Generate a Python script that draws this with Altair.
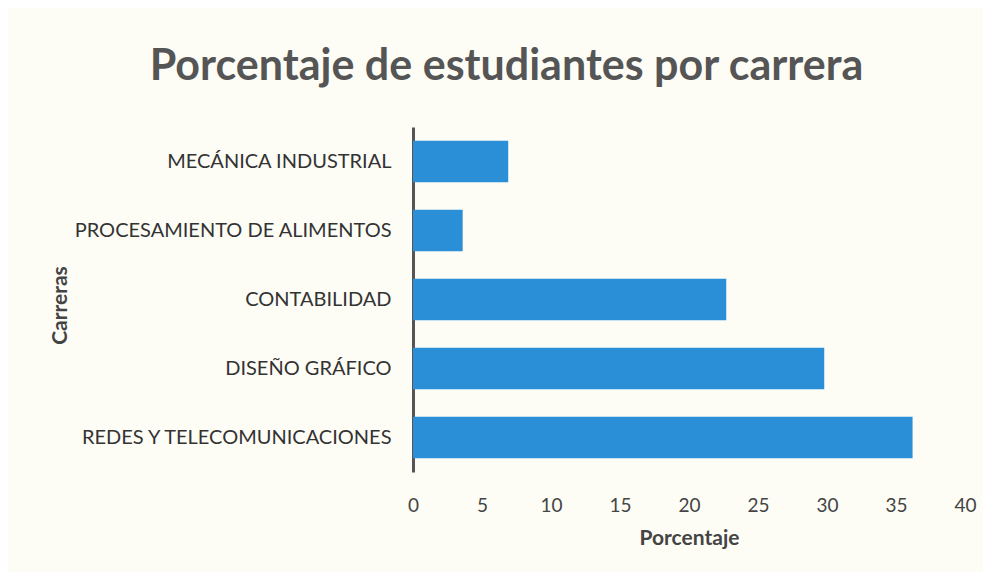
import altair as alt
import pandas as pd

carreras = ["MECÁNICA INDUSTRIAL", "PROCESAMIENTO DE ALIMENTOS", "CONTABILIDAD",
            "DISEÑO GRÁFICO", "REDES Y TELECOMUNICACIONES"]
porcentajes = [6.9, 3.6, 22.7, 29.8, 36.2]
x_ticks = [0, 5, 10, 15, 20, 25, 30, 35, 40]

df = pd.DataFrame({"Carrera": carreras, "Porcentaje": porcentajes})

FONT = "Lato"

chart = alt.Chart(df).mark_bar(color="#2b8fd8").encode(
    x=alt.X("Porcentaje:Q",
            scale=alt.Scale(domain=[0, 40], nice=False),
            axis=alt.Axis(values=x_ticks, domain=False, ticks=False, grid=False,
                          labelFontSize=19, labelColor="#444", labelFont=FONT,
                          labelPadding=24, labelFlush=False,
                          title="Porcentaje", titleFontSize=21, titleFont=FONT,
                          titleFontWeight="bold", titleColor="#444", titlePadding=12)),
    y=alt.Y("Carrera:N", sort=carreras,
            scale=alt.Scale(paddingInner=0.4, paddingOuter=0.2),
            axis=alt.Axis(domain=True, domainColor="#555", domainWidth=3, ticks=False,
                          labelFontSize=20, labelColor="#333", labelFont=FONT,
                          labelPadding=22, labelLimit=400,
                          title="Carreras", titleFontSize=21, titleFont=FONT,
                          titleFontWeight="bold", titleColor="#444",
                          titleX=-343, titleY=178, titleAngle=-90)),
).properties(
    width=552, height=345,
    title=alt.TitleParams("Porcentaje de estudiantes por carrera", fontSize=43,
                          font=FONT, fontWeight="bold", color="#555",
                          anchor="middle", frame="bounds", dx=-6, offset=38),
    background="#fdfdf6",
    padding={"left": 405, "top": 119, "right": 18, "bottom": 100},
    autosize=alt.AutoSizeParams(type="none"),
).configure_view(stroke=None)

chart.save("out.html", embed_options={"renderer": "svg", "actions": False})
